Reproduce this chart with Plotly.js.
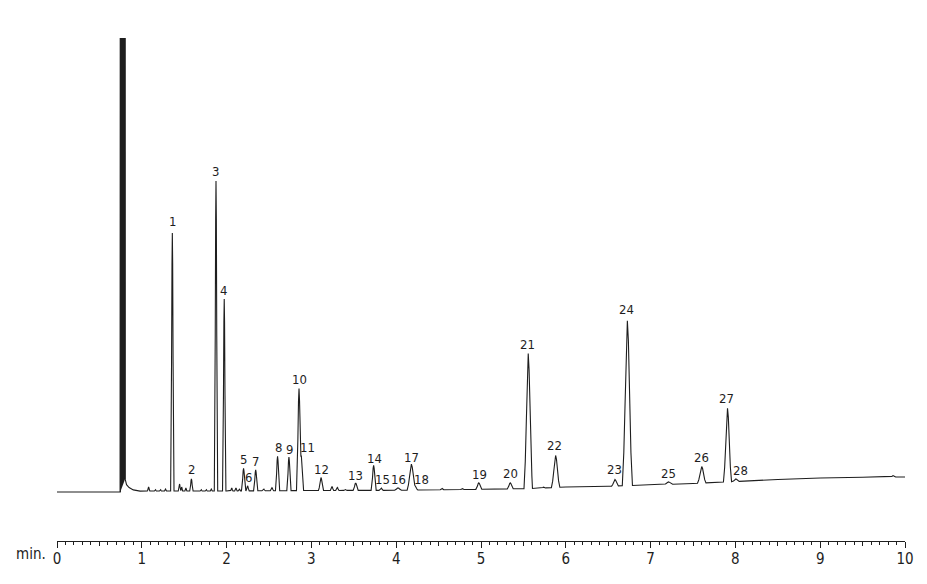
<!DOCTYPE html>
<html>
<head>
<meta charset="utf-8">
<script src="https://cdn.plot.ly/plotly-3.0.1.min.js"></script>
<style>
  html, body { margin: 0; padding: 0; background: #ffffff; }
  #chart { width: 927px; height: 584px; }
</style>
</head>
<body>
<div id="chart"></div>
<script>
// ---- Data (time in min, signal in arbitrary units) ----
// Baseline drift
const baseTime  = [0, 0.74, 1.0, 2.0, 3.0, 4.0, 5.0, 5.6, 6.0, 6.5, 7.0, 7.5, 8.0, 8.5, 9.0, 9.5, 10.0];
const baseLevel = [0, 0,    1,   1,   1.5, 1.7, 2.7, 3.5, 5,   5.8, 7,   8.5, 10.5, 12.5, 14, 14.7, 15];

// Solvent front (goes off scale)
const solventTime   = [0.746, 0.751, 0.799, 0.803, 0.82, 0.85, 0.90, 0.98];
const solventSignal = [0,     2000,  2000,  13,    7,    4,    1.5,  0];

// Numbered peaks
const peakNumber = ["1","2","3","4","5","6","7","8","9","10","11","12","13","14","15","16","17","18","19","20","21","22","23","24","25","26","27","28"];
const peakTime   = [1.360, 1.585, 1.875, 1.972, 2.200, 2.247, 2.343, 2.601, 2.735, 2.854, 2.886, 3.113, 3.522, 3.734, 3.822, 4.022, 4.179, 4.230, 4.974, 5.345, 5.557, 5.880, 6.580, 6.726, 7.210, 7.603, 7.907, 8.005];
const peakHeight = [258,   12,    310,   192,   22.5,  5,     21,    34.5,  33.5,  102,   33,    13,    7.5,   25,    2.5,   2.5,   26,    3,     6.5,   6,     135,   32,    6.5,   165,   2.5,   16.5,  73.5,  2.5];
const peakWidth  = [0.020, 0.020, 0.020, 0.020, 0.025, 0.020, 0.025, 0.025, 0.025, 0.030, 0.022, 0.030, 0.030, 0.030, 0.025, 0.040, 0.050, 0.025, 0.035, 0.035, 0.050, 0.050, 0.040, 0.060, 0.050, 0.050, 0.048, 0.040];

// Label placement (time, signal level of label centre)
const labelTime  = [1.361, 1.586, 1.869, 1.963, 2.196, 2.255, 2.338, 2.609, 2.739, 2.857, 2.955, 3.117, 3.518, 3.743, 3.843, 4.026, 4.179, 4.298, 4.988, 5.342, 5.545, 5.868, 6.573, 6.721, 7.211, 7.595, 7.898, 8.060];
const labelLevel = [270.7, 22.5,  321,   201.7, 32.5,  14.5,  30.5,  44.5,  43,    112.5, 44.4,  22.5,  16.5,  33.5,  12.5,  12.5,  34.5,  12.5,  17.4,  18.5,  147.3, 46.3,  22.3,  182.5, 18.5,  34.7,  93.3,  21.3];

// Small unlabelled peaks
const minorTime   = [1.08, 1.16, 1.22, 1.28, 1.445, 1.47, 1.52, 1.70, 1.76, 1.82, 2.06, 2.11, 2.15, 2.436, 2.535, 3.243, 3.306, 3.40, 4.54, 4.78, 5.74, 9.86];
const minorHeight = [4,    1.5,  1.5,  2,    7,     4,    3,    1.5,  1.5,  2,    3,    3,    2,    2,     3,     4,     3,     1,    1.5,  1,    1,    1.5];
const minorWidth  = [0.015,0.012,0.012,0.012,0.015, 0.012,0.012,0.012,0.012,0.012,0.015,0.015,0.015,0.02,  0.02,  0.02,  0.02,  0.02, 0.02, 0.02, 0.02, 0.03];

// ---- Build the trace ----
const shapeOff  = [-1, -0.7, -0.45, -0.2, 0, 0.2, 0.45, 0.7, 1];
const shapeFrac = [0, 0.2, 0.5, 0.88, 1, 0.88, 0.5, 0.2, 0];

function lerp(xs, ys, t) {
  if (t <= xs[0] || t >= xs[xs.length - 1]) {
    if (t === xs[0]) return ys[0];
    if (t === xs[xs.length - 1]) return ys[ys.length - 1];
    return null;
  }
  for (let i = 1; i < xs.length; i++) {
    if (t <= xs[i]) {
      const f = (t - xs[i - 1]) / (xs[i] - xs[i - 1]);
      return ys[i - 1] + f * (ys[i] - ys[i - 1]);
    }
  }
  return null;
}

const allPeaks = [];
peakTime.forEach((t, i) => allPeaks.push([t, peakHeight[i], peakWidth[i]]));
minorTime.forEach((t, i) => allPeaks.push([t, minorHeight[i], minorWidth[i]]));

let grid = baseTime.concat(solventTime);
allPeaks.forEach(p => shapeOff.forEach(o => grid.push(p[0] + o * p[2])));
grid = Array.from(new Set(grid.map(v => +v.toFixed(5)))).filter(v => v >= 0 && v <= 10).sort((a, b) => a - b);

const sig = grid.map(t => {
  let v = lerp(baseTime, baseLevel, t) || 0;
  const s = lerp(solventTime, solventSignal, t);
  if (s) v += s;
  allPeaks.forEach(p => {
    const xs = shapeOff.map(o => p[0] + o * p[2]);
    const ys = shapeFrac.map(f => f * p[1]);
    const c = lerp(xs, ys, t);
    if (c) v += c;
  });
  return v;
});

const FONT = "'Liberation Sans Narrow', 'Arial Narrow', 'DejaVu Sans Condensed', 'Liberation Sans', sans-serif";
const INK = '#1e1e1e';

const traces = [
  {
    x: solventTime.slice(0, 4), y: solventSignal.slice(0, 4),
    type: 'scatter', mode: 'lines', fill: 'toself', fillcolor: INK,
    line: { color: INK, width: 1 }, hoverinfo: 'skip', showlegend: false
  },
  {
    x: grid, y: sig, type: 'scatter', mode: 'lines',
    line: { color: INK, width: 1.1 }, showlegend: false
  },
  {
    x: [0, 10], y: [-100, -100], xaxis: 'x2', type: 'scatter', mode: 'lines',
    line: { color: 'rgba(0,0,0,0)' }, hoverinfo: 'skip', showlegend: false
  }
];

const annotations = peakNumber.map((n, i) => ({
  x: labelTime[i], y: labelLevel[i], xref: 'x', yref: 'y',
  text: n, showarrow: false, xanchor: 'center', yanchor: 'middle',
  font: { family: FONT, size: 13, color: INK }
}));
annotations.push({
  x: -0.0106, y: -0.025, xref: 'paper', yref: 'paper',
  text: 'min.', showarrow: false, xanchor: 'right', yanchor: 'middle',
  font: { family: FONT, size: 15, color: INK }
});

const layout = {
  width: 927, height: 584, autosize: false,
  margin: { l: 57, r: 22, t: 38, b: 43, pad: 0 },
  paper_bgcolor: '#ffffff', plot_bgcolor: '#ffffff',
  showlegend: false,
  xaxis: {
    range: [0, 10], showgrid: false, zeroline: false,
    showline: true, linecolor: INK, linewidth: 1,
    ticks: 'outside', ticklen: 6, tickwidth: 1, tickcolor: INK,
    tick0: 0, dtick: 1, ticklabelstandoff: -2,
    tickfont: { family: FONT, size: 15, color: INK },
    minor: { dtick: 0.1, tick0: 0, ticks: 'outside', ticklen: 2.5, tickwidth: 1, tickcolor: INK, showgrid: false }
  },
  xaxis2: {
    range: [0, 10], overlaying: 'x', anchor: 'y', side: 'bottom',
    showgrid: false, zeroline: false, showline: false,
    ticks: 'outside', ticklen: 4, tickwidth: 1, tickcolor: INK,
    tick0: 0, dtick: 0.5, showticklabels: false
  },
  yaxis: {
    range: [-49, 454], visible: false, showgrid: false, zeroline: false, fixedrange: true
  },
  annotations: annotations
};

Plotly.newPlot('chart', traces, layout, { displayModeBar: false, staticPlot: true });
</script>
</body>
</html>
